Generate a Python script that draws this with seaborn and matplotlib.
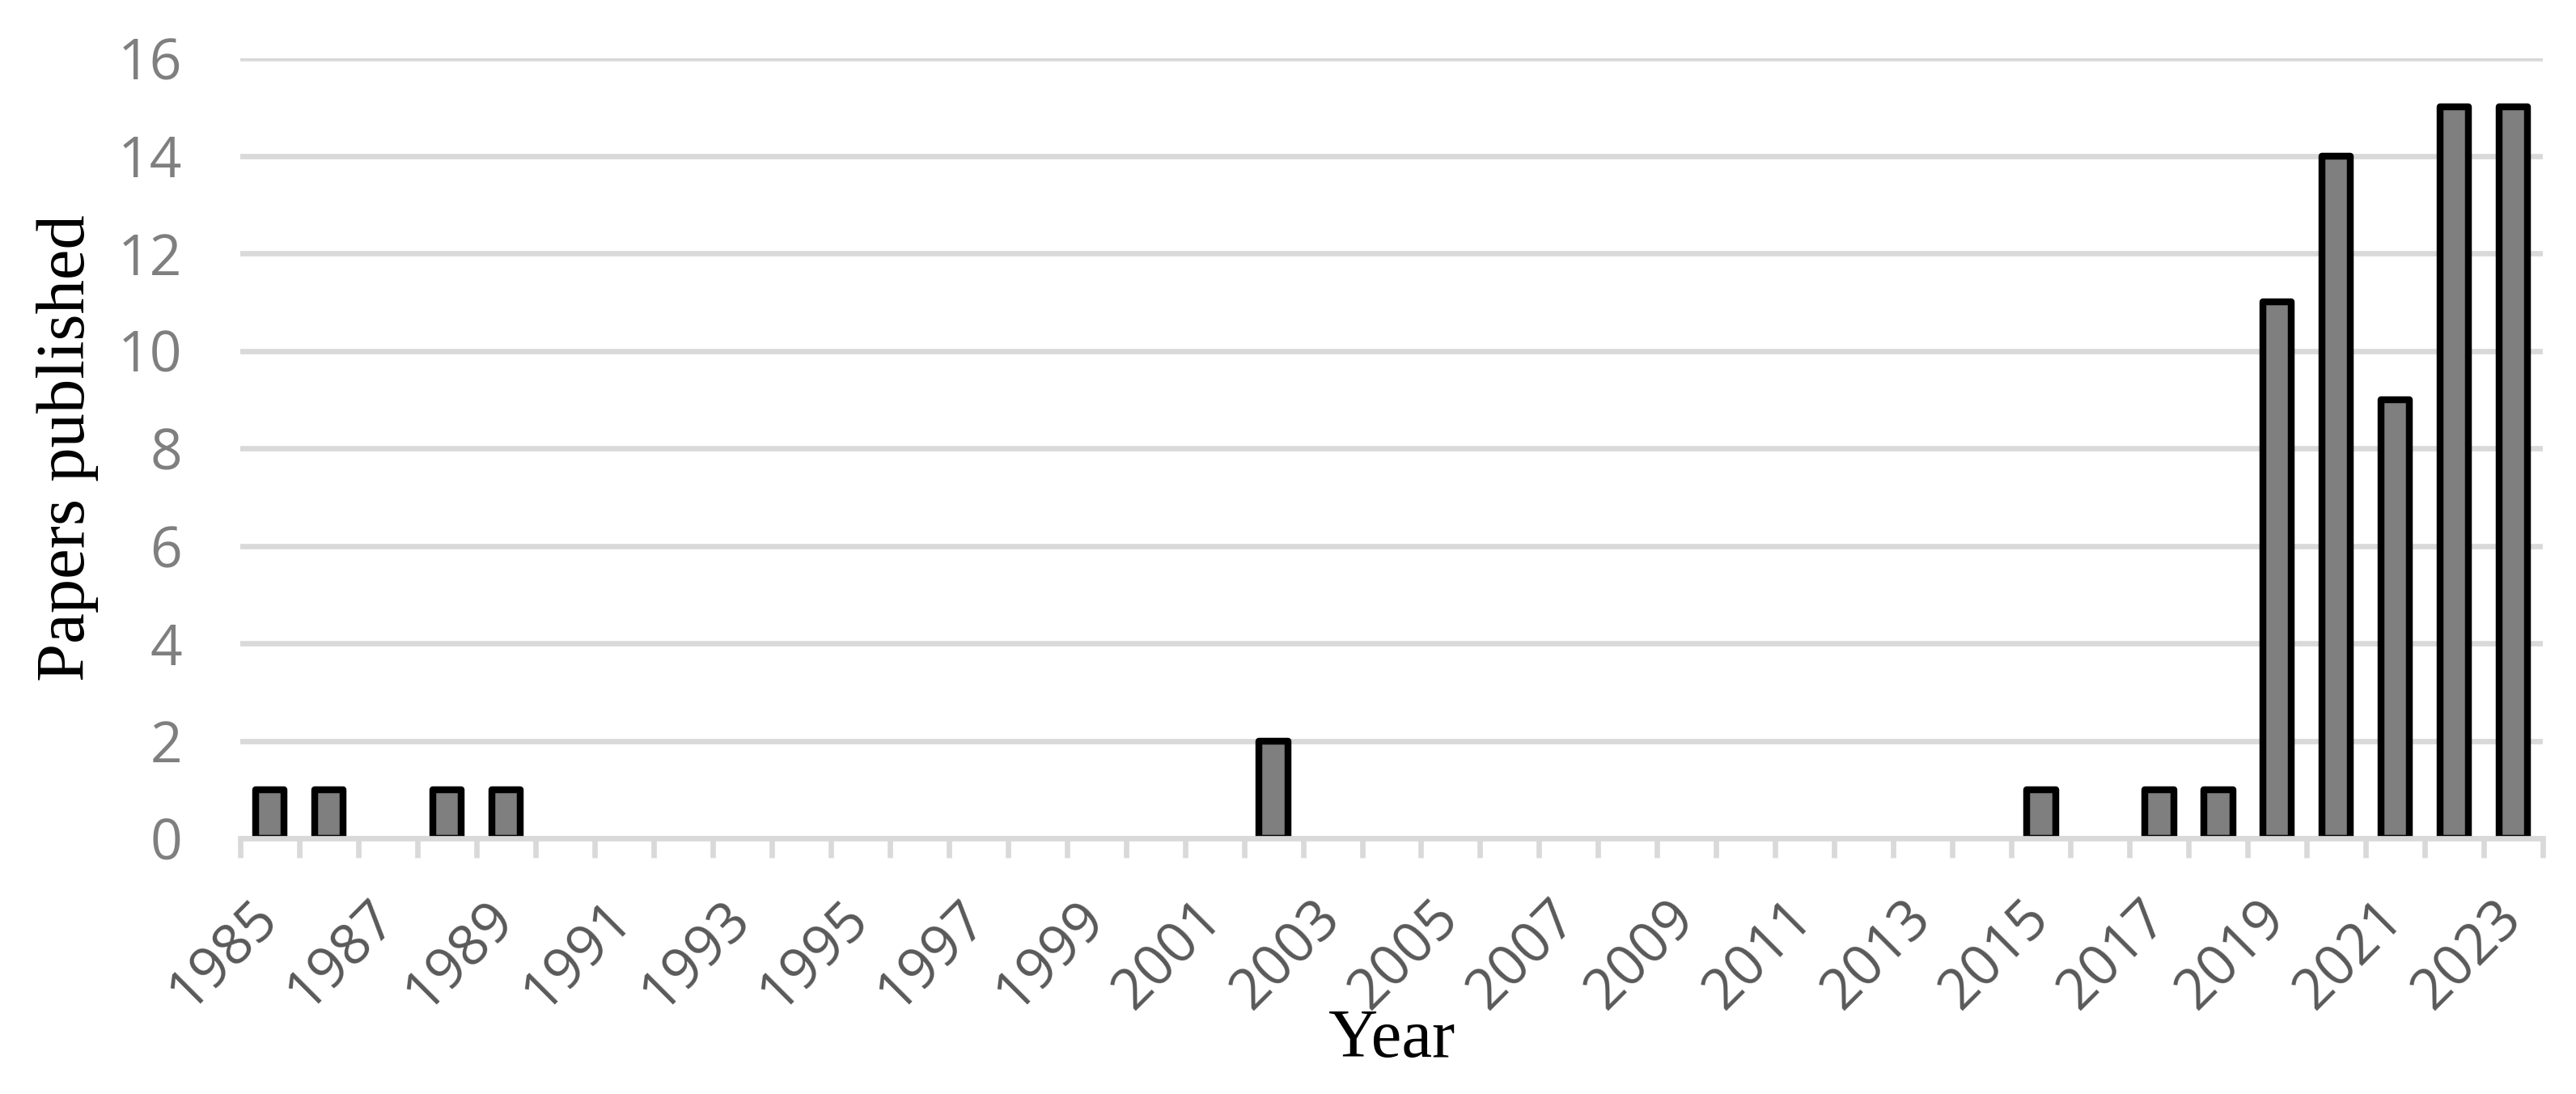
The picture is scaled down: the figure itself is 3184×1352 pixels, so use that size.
import matplotlib
matplotlib.use("Agg")
import numpy as np
import pandas as pd
import seaborn as sns
from matplotlib import pyplot as plt

# data
years = [1985, 1986, 1987, 1988, 1989, 1990, 1991, 1992, 1993, 1994,
         1995, 1996, 1997, 1998, 1999, 2000, 2001, 2002, 2003, 2004,
         2005, 2006, 2007, 2008, 2009, 2010, 2011, 2012, 2013, 2014,
         2015, 2016, 2017, 2018, 2019, 2020, 2021, 2022, 2023]
papers = [1, 1, 0, 1, 1, 0, 0, 0, 0, 0,
          0, 0, 0, 0, 0, 0, 0, 2, 0, 0,
          0, 0, 0, 0, 0, 0, 0, 0, 0, 0,
          1, 0, 1, 1, 11, 14, 9, 15, 15]
y_ticks = [0, 2, 4, 6, 8, 10, 12, 14, 16]
shown_years = years[::2]

df = pd.DataFrame({"year": [str(y) for y in years], "papers": papers})

sns.set_style("white")
plt.rcParams["font.family"] = ["Open Sans", "DejaVu Sans"]

W, H = 3184, 1352
fig = plt.figure(figsize=(W / 100, H / 100), dpi=100)
ax = fig.add_axes([297 / W, 1 - 1036 / H, (3143 - 297) / W, (1036 - 72) / H])

sns.barplot(data=df, x="year", y="papers", color="#7F7F7F", saturation=1,
            width=0.49, edgecolor="black", ax=ax, zorder=2)
for p in ax.patches:
    p.set_joinstyle("round")
    p.set_linewidth(6.1)
    if p.get_height() == 0:
        p.set_visible(False)

ax.set_xlim(-0.5, len(years) - 0.5)
ax.set_ylim(0, 16)
ax.set_yticks(y_ticks)
ax.set_axisbelow(True)
ax.yaxis.grid(True, color="#D9D9D9", linewidth=4.8)
ax.xaxis.grid(False)

for side in ["left", "top", "right"]:
    ax.spines[side].set_visible(False)
ax.spines["bottom"].set_color("#D9D9D9")
ax.spines["bottom"].set_linewidth(4.8)
ax.spines["bottom"].set_zorder(3)

# year labels every other category, tick marks between categories
ax.set_xticks(np.arange(0, len(years), 2))
ax.set_xticklabels([str(y) for y in shown_years], rotation=45, ha="right",
                   va="center", rotation_mode="anchor")
ax.set_xticks(np.arange(-0.5, len(years), 1), minor=True)
ax.tick_params(axis="x", which="major", bottom=True, length=0, pad=64,
               labelsize=50, labelcolor="#595959")
ax.tick_params(axis="x", which="minor", bottom=True, length=17, width=4.8,
               color="#D9D9D9")
ax.tick_params(axis="y", left=False, length=0, pad=52, labelsize=50,
               labelcolor="#7F7F7F")

ax.set_xlabel("Year", fontsize=61, family="Liberation Serif", color="black")
ax.xaxis.set_label_coords(0.5, -(1306 - 1036) / 964)
ax.xaxis.label.set_va("baseline")
ax.set_ylabel("Papers published", fontsize=61, family="Liberation Serif", color="black")
ax.yaxis.set_label_coords((84 - 297) / 2846, 0.5)
ax.yaxis.label.set_va("center")

fig.savefig("out.png", dpi=100)
